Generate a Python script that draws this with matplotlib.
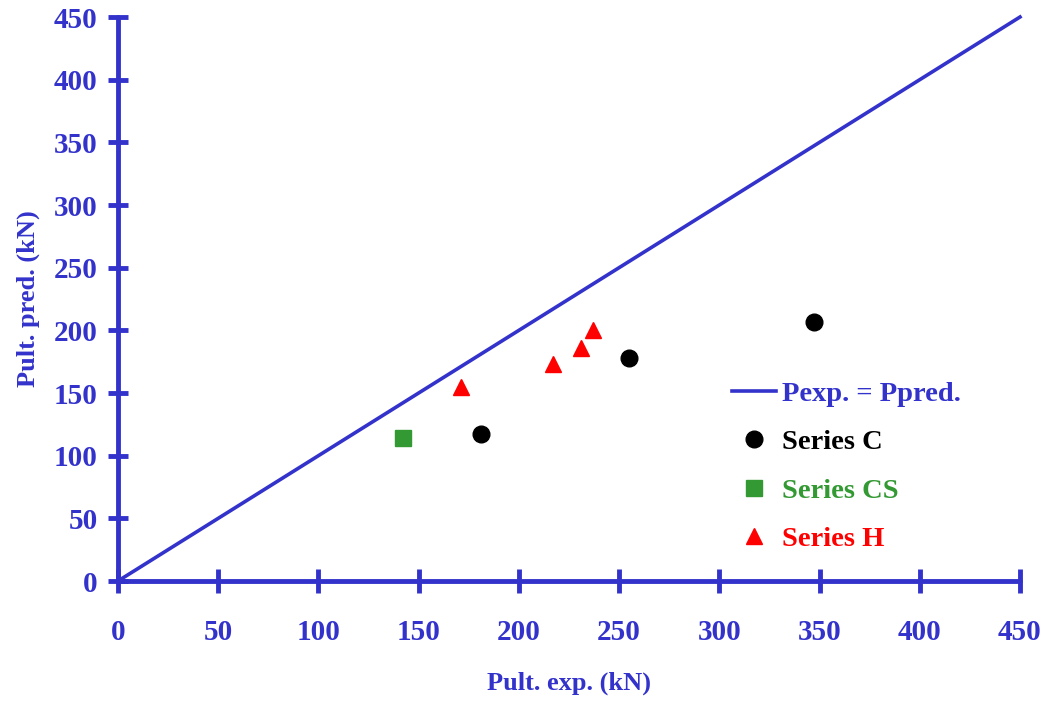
import matplotlib
matplotlib.use("Agg")
import matplotlib.pyplot as plt

# Data
c_x = [181, 255, 347]
c_y = [117, 178, 207]
cs_x = [142]
cs_y = [114]
h_x = [171, 217, 231, 237]
h_y = [155, 173, 186, 200]
line_x = [0, 450]
line_y = [0, 450]
ticks = [0, 50, 100, 150, 200, 250, 300, 350, 400, 450]

BLUE = "#3333cc"
GREEN = "#339933"
RED = "#ff0000"

plt.rcParams['font.family'] = ['Liberation Serif', 'DejaVu Serif']
plt.rcParams['font.weight'] = 'bold'

fig = plt.figure(figsize=(10.55, 7.01), dpi=100)
ax = fig.add_axes([118/1055, 1-581/701, 902/1055, 564/701])

ax.plot(line_x, line_y, color=BLUE, lw=2.6, clip_on=False, label="Pexp. = Ppred.", zorder=3)
ax.plot(c_x, c_y, 'o', color='black', ms=12, ls='none', label="Series C", clip_on=False, zorder=4)
ax.plot(cs_x, cs_y, 's', color=GREEN, ms=11.5, ls='none', label="Series CS", clip_on=False, zorder=4)
ax.plot(h_x, h_y, '^', color=RED, ms=12, ls='none', label="Series H", clip_on=False, zorder=4)

ax.set_xlim(0, 450)
ax.set_ylim(0, 450)
ax.set_xticks(ticks)
ax.set_yticks(ticks)
for s in ['top', 'right']:
    ax.spines[s].set_visible(False)
for s in ['left', 'bottom']:
    ax.spines[s].set_color(BLUE)
    ax.spines[s].set_linewidth(3.5)
    ax.spines[s].set_capstyle('round')

ax.tick_params(axis='x', direction='inout', length=17, width=3.5, color=BLUE,
               labelcolor=BLUE, labelsize=21, pad=19)
ax.tick_params(axis='y', direction='inout', length=15, width=3.5, color=BLUE,
               labelcolor=BLUE, labelsize=21, pad=7)
for t in ax.xaxis.get_major_ticks() + ax.yaxis.get_major_ticks():
    t.tick1line.set_solid_capstyle('round')
for lab in ax.get_xticklabels() + ax.get_yticklabels():
    lab.set_fontweight('bold')

ax.set_xlabel("Pult. exp. (kN)", color=BLUE, fontsize=19, fontweight='bold')
ax.set_ylabel("Pult. pred. (kN)", color=BLUE, fontsize=19, fontweight='bold')
ax.xaxis.set_label_coords(0.5, -0.16)
ax.yaxis.set_label_coords(-0.087, 0.5)

leg = ax.legend(loc='upper left', bbox_to_anchor=((732-118)/902, (581-381)/564),
                frameon=False, handlelength=1.55, handletextpad=0.2,
                labelspacing=0.79, borderaxespad=0, borderpad=0,
                prop={'weight': 'bold', 'size': 20.5})
for txt, col in zip(leg.get_texts(), [BLUE, 'black', GREEN, RED]):
    txt.set_color(col)

fig.savefig("out.png", dpi=100)
